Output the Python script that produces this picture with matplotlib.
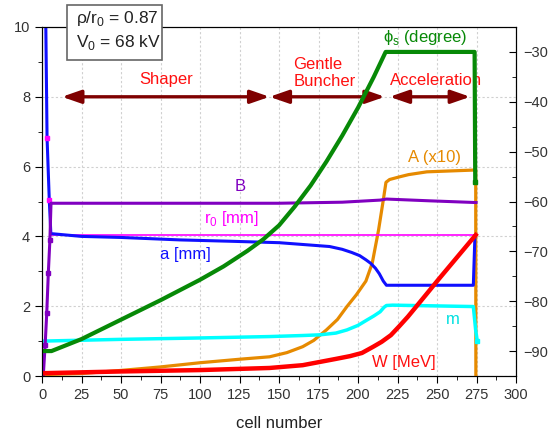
import matplotlib
matplotlib.use("Agg")
import matplotlib.pyplot as plt
from matplotlib.patches import Rectangle
from matplotlib.ticker import MultipleLocator

plt.rcParams['font.family'] = ['Liberation Sans', 'DejaVu Sans']

# --- data ---
# a [mm]
a_x = [2.0, 3.2, 4.6, 5.6, 25, 50, 87, 120, 150, 182, 190, 196, 201, 205, 208, 211, 213.5, 216, 218, 273, 274]
a_y = [11.7, 6.83, 5.05, 4.08, 4.0, 3.97, 3.9, 3.86, 3.82, 3.71, 3.63, 3.54, 3.45, 3.33, 3.23, 3.09, 2.93, 2.72, 2.6, 2.6, 4.02]
# r0 [mm]
r0_x = [5.6, 274.5]
r0_y = [4.05, 4.05]
# B
b_x = [0.8, 2, 3, 4, 5, 5.7, 150, 190, 214, 218, 245, 274.7]
b_y = [0.0, 0.9, 1.8, 2.95, 3.9, 4.95, 4.95, 4.98, 5.04, 5.07, 5.02, 4.97]
# m
m_x = [0, 50, 100, 144, 165, 176, 186, 193, 200, 205.5, 210, 214, 216.5, 218, 222, 273, 274.5, 275.5]
m_y = [1.0, 1.05, 1.09, 1.13, 1.16, 1.18, 1.23, 1.32, 1.45, 1.6, 1.72, 1.84, 1.97, 2.02, 2.03, 1.99, 1.3, 1.0]
# A (x10)
A_x = [0, 25, 50, 75, 100, 125, 144, 155, 165, 172, 180, 187, 193, 199, 205, 209, 213, 216, 217.7,
       220, 226.6, 232, 243.6, 272.8, 274.5, 274.6]
A_y = [0.04, 0.07, 0.16, 0.26, 0.38, 0.48, 0.55, 0.67, 0.84, 1.02, 1.32, 1.62, 1.99, 2.33, 2.72, 3.23,
       4.18, 5.04, 5.55, 5.63, 5.71, 5.77, 5.85, 5.9, 5.9, 0.0]
# W [MeV]
W_x = [0, 50, 100, 144, 165, 186, 195, 202.5, 209.7, 215, 220.8, 226, 231.6, 242.7, 251, 274.5]
W_y = [0.08, 0.13, 0.17, 0.23, 0.31, 0.49, 0.57, 0.66, 0.84, 0.98, 1.17, 1.42, 1.7, 2.31, 2.77, 4.04]
# phi_s (degree), right axis
phi_x = [0, 6, 25, 50, 75, 100, 115, 130, 140, 150, 160, 170, 180, 190, 200, 210, 217.5, 273.8, 274.2]
phi_y = [-90, -90, -87.6, -83.7, -79.8, -75.7, -73.0, -69.9, -67.6, -64.8, -61.0, -56.8, -52.0, -46.8,
         -41.2, -35.0, -30, -30, -56]

sections = [("Shaper", 12.6, 144), ("Buncher", 144, 217), ("Acceleration", 220, 271)]

fig = plt.figure(figsize=(5.59, 4.32), dpi=100)
ax = fig.add_axes([42/559, 56/432, 474/559, 349/432])

ax.plot(A_x, A_y, color='#e68a00', lw=2.3, zorder=3)
ax.plot(r0_x, r0_y, color='#ff00ff', lw=1.2, zorder=3)
ax.plot(a_x, a_y, color='#1010ff', lw=2.2, zorder=4)
ax.plot([3.2, 4.6], [6.83, 5.05], ls='none', marker='s', ms=3, color='#ff00ff', zorder=5)
ax.plot(m_x, m_y, color='#00ffff', lw=2.5, zorder=4)
ax.plot(m_x[-1:], m_y[-1:], ls='none', marker='s', ms=3, color='#00ffff', zorder=4)
ax.plot(b_x, b_y, color='#8000c0', lw=2.2, zorder=5)
ax.plot(b_x[1:5], b_y[1:5], ls='none', marker='s', ms=3, color='#8000c0', zorder=5)
ax.plot(W_x, W_y, color='#ff0000', lw=3.2, zorder=6)

ax.set_xlim(0, 300)
ax.set_ylim(0, 10)
ax.xaxis.set_major_locator(MultipleLocator(25))
ax.xaxis.set_minor_locator(MultipleLocator(12.5))
ax.yaxis.set_major_locator(MultipleLocator(2))
ax.yaxis.set_minor_locator(MultipleLocator(1))
ax.tick_params(which='both', direction='out', labelsize=10.5, labelcolor='#333333')
ax.tick_params(which='major', length=5)
ax.tick_params(which='minor', length=3)
ax.grid(True, which='major', color='#d0d0d0', ls=(0, (2, 2)), lw=0.8)
ax.set_xlabel('cell number', fontsize=12, color='#222222', labelpad=10)

# section arrows
for name, x0, x1 in sections:
    ax.annotate('', xy=(x1, 8), xytext=(x0, 8),
                arrowprops=dict(arrowstyle='<|-|>,head_length=0.95,head_width=0.33',
                                color='#7f0000', lw=2.4, mutation_scale=12,
                                shrinkA=0, shrinkB=0), zorder=7)

ax.text(78.5, 8.5, 'Shaper', color='#ff1010', fontsize=12, ha='center', va='center')
ax.text(159, 8.68, 'Gentle\nBuncher', color='#ff1010', fontsize=12, ha='left', va='center',
        linespacing=1.15)
ax.text(249.7, 8.48, 'Acceleration', color='#ff1010', fontsize=12, ha='center', va='center')

ax.text(125.3, 5.42, 'B', color='#8000c0', fontsize=12, ha='center', va='center')
ax.text(120, 4.5, r'r$_\mathregular{0}$ [mm]', color='#ff00ff', fontsize=12, ha='center', va='center')
ax.text(90.5, 3.47, 'a [mm]', color='#1010ff', fontsize=12, ha='center', va='center')
ax.text(248.7, 6.27, 'A (x10)', color='#e68a00', fontsize=12, ha='center', va='center')
ax.text(260, 1.63, 'm', color='#00e0e0', fontsize=12, ha='center', va='center')
ax.text(229, 0.4, 'W [MeV]', color='#ff1010', fontsize=12, ha='center', va='center')
ax.text(242.4, 9.71, r'ϕ$_\mathregular{s}$ (degree)', color='#078907', fontsize=12, ha='center', va='center')

ax2 = ax.twinx()
ax2.plot(phi_x, phi_y, color='#078907', lw=3.0)
ax2.plot(phi_x[-1:], phi_y[-1:], ls='none', marker='s', ms=3.5, color='#078907')
ax2.set_ylim(-95, -25)
ax2.yaxis.set_minor_locator(MultipleLocator(5))
ax2.set_yticks(range(-90, -29, 10))
ax2.tick_params(which='both', direction='in', labelsize=10.5, labelcolor='#333333', pad=5)
ax2.tick_params(which='major', length=5)
ax2.tick_params(which='minor', length=3)

# parameter box over the top spine
box = Rectangle((67/559, 1 - 60/432), 95/559, 55/432, transform=fig.transFigure,
                facecolor='white', edgecolor='#666666', lw=1.2, zorder=20, clip_on=False)
ax2.add_artist(box)
fig.text(76/559, 1 - 18/432, r'ρ/r$_\mathregular{0}$ = 0.87', fontsize=12.5, ha='left', va='center',
         color='#222222', zorder=21)
fig.text(76/559, 1 - 42/432, r'V$_\mathregular{0}$ = 68 kV', fontsize=12.5, ha='left', va='center',
         color='#222222', zorder=21)

fig.savefig('out.png', dpi=100)
